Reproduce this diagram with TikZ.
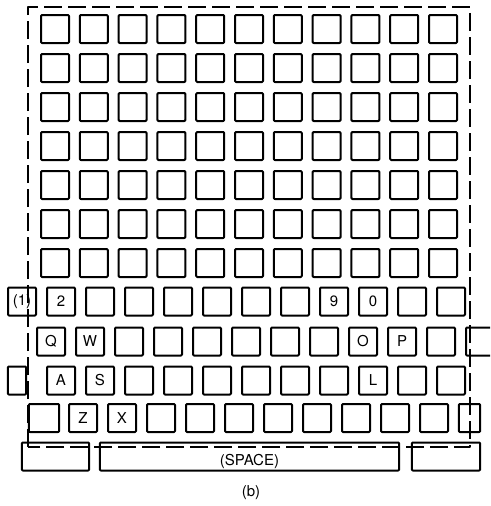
\documentclass[tikz,border=0pt]{standalone}
\usepackage{fontspec}
\setmainfont{TeX Gyre Heros}

\begin{document}
\begin{tikzpicture}[x=1pt, y=-1pt, line join=round,
    keycap/.style={draw, line width=2pt, rounded corners=1pt, inner sep=0pt,
        minimum width=28pt, minimum height=28pt, font=\fontsize{15}{17}\selectfont},
    keytext/.style={inner sep=0pt, font=\fontsize{15}{17}\selectfont},
    frame/.style={line width=2pt, dash pattern=on 18pt off 6pt}]

    \useasboundingbox (0,0) rectangle (490,506);
    \clip (0,0) rectangle (490,506);

    % blank grid, 7 rows of 11
    \foreach \r in {0,...,6} {
        \foreach \c in {0,...,10} {
            \node[keycap] (g-\r-\c) at ({55+38.8*\c},{29+39*\r}) {};
        }
    }

    % number row
    \foreach \lbl [count=\i from 0] in {{(1)},2,{},{},{},{},{},{},9,0,{},{}} {
        \node[keycap] (num-\i) at ({22+39*\i},301.5) {\lbl};
    }

    % upper letter row (last key runs off the page)
    \foreach \lbl [count=\i from 0] in {Q,W,{},{},{},{},{},{},O,P,{},{}} {
        \node[keycap] (top-\i) at ({51+39*\i},341.5) {\lbl};
    }

    % home row
    \node[keycap, minimum width=18.4pt] (home-l) at (17,380.5) {};
    \foreach \lbl [count=\i from 0] in {A,S,{},{},{},{},{},{},L,{},{}} {
        \node[keycap] (home-\i) at ({61+39*\i},380.5) {\lbl};
    }

    % bottom letter row
    \node[keycap, minimum width=30.4pt] (bot-l) at (44,418) {};
    \foreach \lbl [count=\i from 0] in {Z,X,{},{},{},{},{},{},{},{}} {
        \node[keycap] (bot-\i) at ({83+39*\i},418) {\lbl};
    }
    \node[keycap, minimum width=21.4pt] (bot-r) at (469.5,418) {};

    % space bar row
    \node[keycap, minimum width=67.4pt] (spaceL) at (55.5,456.5) {};
    \node[keycap, minimum width=299.4pt] (space) at (249.5,456.5) {};
    \node[keycap, minimum width=68.4pt] (spaceR) at (446,456.5) {};
    \node[keytext] (spaceLbl) at (249.5,461) {(SPACE)};

    % dashed outline of the key area
    \draw[frame] (28,447) -- (28,7) -- (470,7) -- (470,447) -- cycle;

    \node[keytext] (caption) at (251,493) {(b)};

\end{tikzpicture}
\end{document}
